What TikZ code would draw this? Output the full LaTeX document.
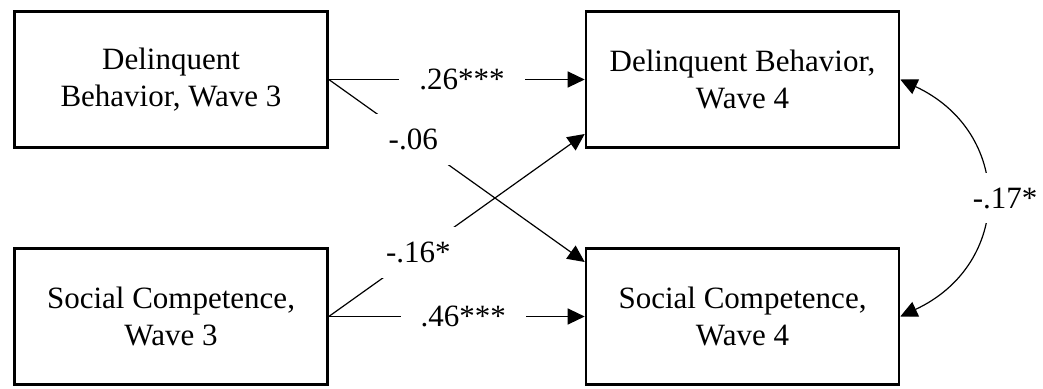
\documentclass[tikz,border=0pt]{standalone}
\usepackage{fontspec}
\setmainfont{Liberation Serif}
\usetikzlibrary{arrows.meta}
\begin{document}
\begin{tikzpicture}[x=1pt,y=1pt,
  box/.style={draw=black, line width=2.6pt, minimum width=313pt, minimum height=136pt,
    align=center, font=\fontsize{31}{37}\selectfont, inner sep=0pt},
  tip/.tip={Triangle[length=17pt,width=16pt]},
  path/.style={line width=1.2pt, -tip},
  lbl/.style={fill=white, inner xsep=20pt, inner ysep=15pt, font=\fontsize{31}{37}\selectfont}]
\useasboundingbox (0,0) rectangle (1043,-388);
\node[box] (A) at (171,-79.5) {Delinquent\\Behavior, Wave 3};
\node[box] (B) at (742.5,-79.5) {Delinquent Behavior,\\Wave 4};
\node[box] (C) at (171,-316.5) {Social Competence,\\Wave 3};
\node[box] (D) at (742.5,-316.5) {Social Competence,\\Wave 4};
\draw[path] (A.east) -- (D.west |- 0,-262) node[lbl, pos=0.33] (l2) {-.06};
\draw[path] (C.east) -- (B.west |- 0,-134) node[lbl, pos=0.35] (l3) {-.16*};
\draw[path] (A.east) -- (B.west) node[lbl, pos=0.52] (l1) {.26***};
\draw[path] (C.east) -- (D.west) node[lbl, pos=0.525] (l4) {.46***};
\draw[line width=1.2pt, tip-tip]
  (B.east) to[out=-25, in=25, looseness=1.35]
  node[lbl, pos=0.5, xshift=20pt, inner xsep=4pt] (l5) {-.17*} (D.east);
\end{tikzpicture}
\end{document}
